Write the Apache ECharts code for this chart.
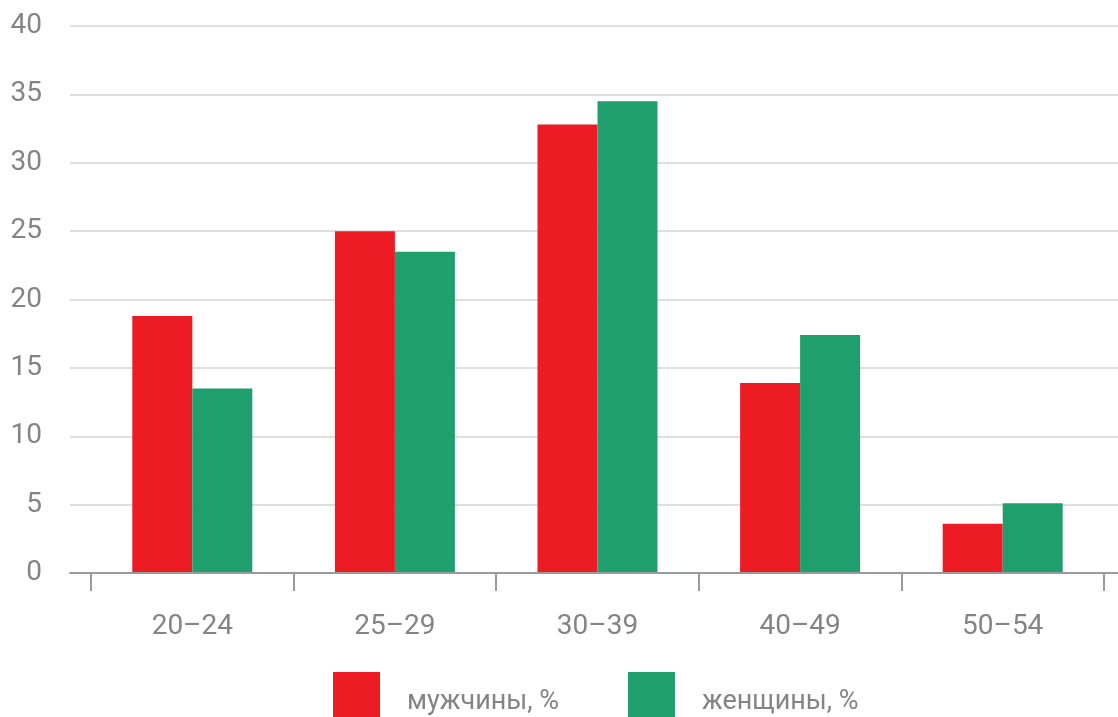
<!DOCTYPE html>
<html><head><meta charset="utf-8">
<script src="https://cdn.jsdelivr.net/npm/echarts@6/dist/echarts.min.js"></script>
<style>html,body{margin:0;padding:0;background:#fff}#c{width:1118px;height:717px}</style>
</head><body><div id="c"></div>
<script>
const categories = ['20–24','25–29','30–39','40–49','50–54'];
const men = [18.8, 25.0, 32.8, 13.9, 3.6];
const women = [13.5, 23.5, 34.5, 17.4, 5.1];
const seriesNames = ['мужчины, %','женщины, %'];
const yTicks = {min:0, max:40, interval:5};

const font = 'Roboto';
const gray = '#848487';
const chart = echarts.init(document.getElementById('c'));
const legendBase = {
  top:672, itemWidth:47, itemHeight:46, padding:0, icon:'rect', selectedMode:false,
  formatter: '{t|{name}}',
  textStyle:{fontSize:27, color:gray, fontFamily:font,
    rich:{t:{fontSize:27, color:gray, fontFamily:font, padding:[14,0,0,22]}}}
};
chart.setOption({
  animation:false,
  textStyle:{fontFamily:font},
  grid:[
    {left:70, right:0, top:26, bottom:144, containLabel:false},
    {left:91, right:14, top:26, bottom:144, containLabel:false}
  ],
  legend:[
    Object.assign({}, legendBase, {data:[seriesNames[0]], left:333}),
    Object.assign({}, legendBase, {data:[seriesNames[1]], left:628})
  ],
  xAxis:[
    {type:'category', gridIndex:0, data:categories, axisLabel:{show:false}, axisTick:{show:false},
     axisLine:{lineStyle:{color:'#9a9a9d', width:2}}, z:5},
    {type:'category', gridIndex:1, data:categories,
     axisLine:{show:false},
     axisTick:{show:true, length:18, lineStyle:{color:'#9a9a9d', width:2}},
     axisLabel:{fontSize:28, color:gray, margin:40, fontFamily:font}}
  ],
  yAxis:[
    {type:'value', gridIndex:0, min:yTicks.min, max:yTicks.max, interval:yTicks.interval,
     axisLine:{show:false}, axisTick:{show:false},
     axisLabel:{fontSize:28, color:gray, margin:28, fontFamily:font},
     splitLine:{lineStyle:{color:'#d4d4d6', width:1.5}}},
    {type:'value', gridIndex:1, min:yTicks.min, max:yTicks.max, interval:yTicks.interval,
     axisLine:{show:false}, axisTick:{show:false}, axisLabel:{show:false}, splitLine:{show:false}}
  ],
  series:[
    {name:seriesNames[0], type:'bar', xAxisIndex:1, yAxisIndex:1, data:men, barWidth:60, barGap:'0%',
     itemStyle:{color:'#ed1c24'}},
    {name:seriesNames[1], type:'bar', xAxisIndex:1, yAxisIndex:1, data:women, barWidth:60, barGap:'0%',
     itemStyle:{color:'#1e9f6d'}}
  ]
});
</script></body></html>
